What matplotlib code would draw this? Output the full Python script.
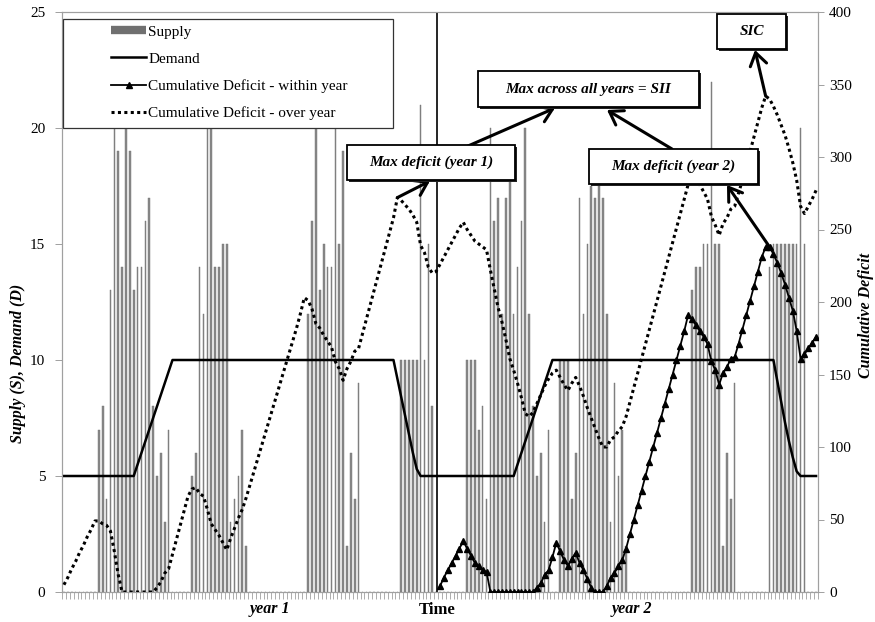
import numpy as np
import matplotlib
matplotlib.use('Agg')
import matplotlib.pyplot as plt
from matplotlib.lines import Line2D
from matplotlib.patches import Rectangle

plt.rcParams['font.family'] = ['Liberation Serif', 'DejaVu Serif']

# ---------------- data ----------------
supply = [
    0, 0, 0, 0, 0, 0, 0, 0, 0, 7,
    8, 4, 13, 20, 19, 14, 20, 19, 13, 14,
    14, 16, 17, 8, 5, 6, 3, 7, 0, 0,
    0, 0, 0, 5, 6, 14, 12, 20, 20, 14,
    14, 15, 15, 3, 4, 5, 7, 2, 0, 0,
    0, 0, 0, 0, 0, 0, 0, 0, 0, 0,
    0, 0, 0, 12, 16, 20, 13, 15, 14, 14,
    20, 15, 19, 2, 6, 4, 9, 0, 0, 0,
    0, 0, 0, 0, 0, 0, 0, 10, 10, 10,
    10, 10, 21, 10, 15, 8, 0, 0, 0, 0,
    0, 0, 0, 0, 10, 10, 10, 7, 8, 4,
    20, 16, 17, 12, 17, 18, 12, 14, 16, 20,
    12, 8, 5, 6, 3, 7, 0, 0, 10, 10,
    10, 4, 6, 17, 12, 15, 17.5, 17, 17.5, 17,
    12, 3, 9, 5, 7, 2, 0, 0, 0, 0,
    0, 0, 0, 0, 0, 0, 0, 0, 0, 0,
    0, 0, 13, 14, 14, 15, 15, 22, 15, 15,
    2, 6, 4, 9, 0, 0, 0, 0, 0, 0,
    0, 0, 14, 15, 15, 15, 15, 15, 15, 15,
    20, 15, 0, 0, 0,
]

demand = (
    [5] * 19 + [5.5, 6, 6.5, 7, 7.5, 8, 8.5, 9, 9.5] + [10] * 58
    + [9.2, 8.4, 7.6, 6.8, 6.0, 5.3] + [5] * 5
    + [5] * 20 + [5.5, 6, 6.5, 7, 7.5, 8, 8.5, 9, 9.5] + [10] * 58
    + [9.1, 8.2, 7.3, 6.5, 5.8, 5.2] + [5] * 5
)

deficit_over = [
    5, 10, 16, 21, 27, 32, 38, 43, 49, 49,
    47, 46, 42, 28, 12, 0, 0, 0, 0, 0,
    0, 0, 0, 0, 3, 7, 13, 16, 26, 36,
    46, 56, 66, 71, 72, 68, 66, 57, 47, 43,
    39, 34, 29, 37, 44, 51, 57, 65, 74, 83,
    92, 101, 110, 119, 128, 137, 146, 155, 164, 173,
    182, 192, 203, 201, 195, 185, 182, 177, 173, 169,
    159, 154, 146, 154, 159, 166, 168, 178, 188, 198,
    208, 218, 228, 238, 248, 258, 272, 270, 267, 264,
    260, 255, 239, 234, 224, 220, 221, 226, 231, 236,
    241, 246, 251, 255, 250, 246, 242, 240, 238, 236,
    222, 209, 196, 186, 174, 161, 153, 144, 134, 123,
    121, 124, 130, 136, 142, 147, 151, 153, 148, 143,
    139, 144, 148, 142, 135, 127, 120, 113, 106, 100,
    100, 105, 107, 111, 114, 121, 131, 141, 151, 161,
    171, 181, 191, 201, 211, 221, 231, 241, 251, 261,
    271, 281, 288, 285, 281, 276, 271, 259, 253, 246,
    254, 258, 264, 266, 275, 284, 294, 304, 314, 324,
    334, 342, 340, 335, 329, 322, 315, 306, 296, 284,
    266, 261, 266, 271, 277,
]

deficit_within = [np.nan] * 97 + [
    4, 10, 15,
    20, 25, 30, 35, 30, 25, 20, 18, 15, 14,
    0, 0, 0, 0, 0, 0, 0, 0, 0, 0,
    0, 0, 3, 6, 12, 15, 24, 34, 28, 22,
    18, 23, 27, 20, 15, 9, 3, 0, 0, 0,
    4, 10, 13, 18, 22, 30, 40, 50, 60, 70,
    80, 90, 100, 110, 120, 130, 140, 150, 160, 170,
    180, 191, 188, 184, 180, 176, 171, 159, 153, 143,
    151, 155, 161, 162, 171, 181, 191, 201, 211, 221,
    231, 238, 238, 233, 227, 220, 212, 203, 194, 180,
    161, 164, 168, 172, 176,
]

series_labels = ['Supply', 'Demand', 'Cumulative Deficit - within year',
                 'Cumulative Deficit - over year']
left_ticks = [0, 5, 10, 15, 20, 25]
right_ticks = [0, 50, 100, 150, 200, 250, 300, 350, 400]
year_end_index = 96  # last period of year 1
peak_over_y1 = 86
peak_over_y2 = 181
peak_within_y2 = 182

periods = np.arange(len(supply))

# ---------------- figure ----------------
W, H = 875, 622
fig = plt.figure(figsize=(W / 100, H / 100), dpi=100)


def fx(x):
    return x / W


def fy(y):
    return 1 - y / H


ax = fig.add_axes([fx(62), fy(592), (818 - 62) / W, (592 - 12) / H])
ax2 = ax.twinx()

gray = '#a0a0a0'
ax.bar(periods, supply, width=0.42, color='#8a8a8a', edgecolor='#707070',
       linewidth=0.3, zorder=2)
ax.plot(periods, demand, color='black', lw=1.8, zorder=3)
ax.axvline(year_end_index + 0.3, color='black', lw=1.2, zorder=3)

ax2.plot(periods, deficit_within, color='black', lw=1.3, marker='^', ms=4.2,
         zorder=3)
ax2.plot(periods, deficit_over, color='black', lw=2.2,
         linestyle=(0, (1, 1.1)), dash_capstyle='butt', zorder=3)

ax.set_xlim(-0.5, len(supply) - 0.5)
ax.set_ylim(0, 25)
ax2.set_ylim(0, 400)

ax.set_xticks(np.arange(-0.5, len(supply), 1))
ax.tick_params(axis='x', length=5, width=0.6, color=gray, labelbottom=False)
ax.set_yticks(left_ticks)
ax.tick_params(axis='y', length=5, width=0.7, color=gray, labelsize=11, pad=7)
ax2.set_yticks(right_ticks)
ax2.tick_params(axis='y', length=4, width=0.7, color=gray, labelsize=11, pad=4)

for a in (ax, ax2):
    for s in a.spines.values():
        s.set_color(gray)
        s.set_linewidth(0.8)

# axis texts
fig.text(fx(270), fy(609), 'year 1', ha='center', va='center', fontsize=11.5,
         weight='bold', style='italic')
fig.text(fx(437), fy(610), 'Time', ha='center', va='center', fontsize=12,
         weight='bold')
fig.text(fx(632), fy(609), 'year 2', ha='center', va='center', fontsize=11.5,
         weight='bold', style='italic')
fig.text(fx(18), fy(363), 'Supply (S), Demand (D)', rotation=90, ha='center',
         va='center', fontsize=11.5, weight='bold', style='italic')
fig.text(fx(866), fy(315), 'Cumulative Deficit', rotation=90, ha='center',
         va='center', fontsize=11.5, weight='bold', style='italic')

# legend
fig.add_artist(Rectangle((fx(63), fy(128)), (393 - 63) / W, (128 - 19) / H,
                         transform=fig.transFigure, facecolor='white',
                         edgecolor='#333333', lw=0.9, zorder=4))
handles = [
    Line2D([], [], color='#707070', lw=6, solid_capstyle='butt'),
    Line2D([], [], color='black', lw=1.8),
    Line2D([], [], color='black', lw=1.3, marker='^', ms=4.2),
    Line2D([], [], color='black', lw=2.2, linestyle=(0, (1, 1.1)),
           dash_capstyle='butt'),
]
leg = fig.legend(handles, series_labels, loc='upper left',
                 bbox_to_anchor=(fx(111), fy(25)), frameon=False, fontsize=11,
                 handlelength=2.3, handletextpad=0.15, labelspacing=0.88,
                 borderpad=0, borderaxespad=0)
leg.set_zorder(5)


# annotation boxes
def box(x0, y0, x1, y1, text):
    fig.add_artist(Rectangle((fx(x0) + 2 / W, fy(y1) - 2 / H), (x1 - x0) / W,
                             (y1 - y0) / H, transform=fig.transFigure,
                             facecolor='#222222', edgecolor='none', zorder=6))
    fig.add_artist(Rectangle((fx(x0), fy(y1)), (x1 - x0) / W, (y1 - y0) / H,
                             transform=fig.transFigure, facecolor='white',
                             edgecolor='black', lw=1.3, zorder=7))
    t = fig.text(fx((x0 + x1) / 2), fy((y0 + y1) / 2), text, ha='center',
                 va='center', fontsize=11, weight='bold', style='italic')
    t.set_zorder(8)


box(347, 145, 515, 180, 'Max deficit (year 1)')
box(478, 71, 699, 107, 'Max across all years = SII')
box(589, 149, 758, 184, 'Max deficit (year 2)')
box(717, 14, 786, 49, 'SIC')

aprops = dict(arrowstyle='->, head_length=0.45, head_width=0.3', lw=2.2,
              color='black', shrinkA=0, shrinkB=0, mutation_scale=20)
ax2.annotate('', xy=(fx(430), fy(181)), xycoords='figure fraction',
             xytext=(peak_over_y1, deficit_over[peak_over_y1]),
             textcoords='data', arrowprops=aprops, annotation_clip=False)
ax2.annotate('', xy=(fx(555), fy(108)), xycoords='figure fraction',
             xytext=(fx(468), fy(146)), textcoords='figure fraction',
             arrowprops=aprops, annotation_clip=False)
ax2.annotate('', xy=(fx(607), fy(110)), xycoords='figure fraction',
             xytext=(fx(672), fy(149)), textcoords='figure fraction',
             arrowprops=aprops, annotation_clip=False)
ax2.annotate('', xy=(fx(727), fy(185)), xycoords='figure fraction',
             xytext=(peak_within_y2, deficit_within[peak_within_y2]),
             textcoords='data', arrowprops=aprops, annotation_clip=False)
ax2.annotate('', xy=(fx(755), fy(50)), xycoords='figure fraction',
             xytext=(peak_over_y2, deficit_over[peak_over_y2]),
             textcoords='data', arrowprops=aprops, annotation_clip=False)

fig.savefig('out.png', dpi=100)
